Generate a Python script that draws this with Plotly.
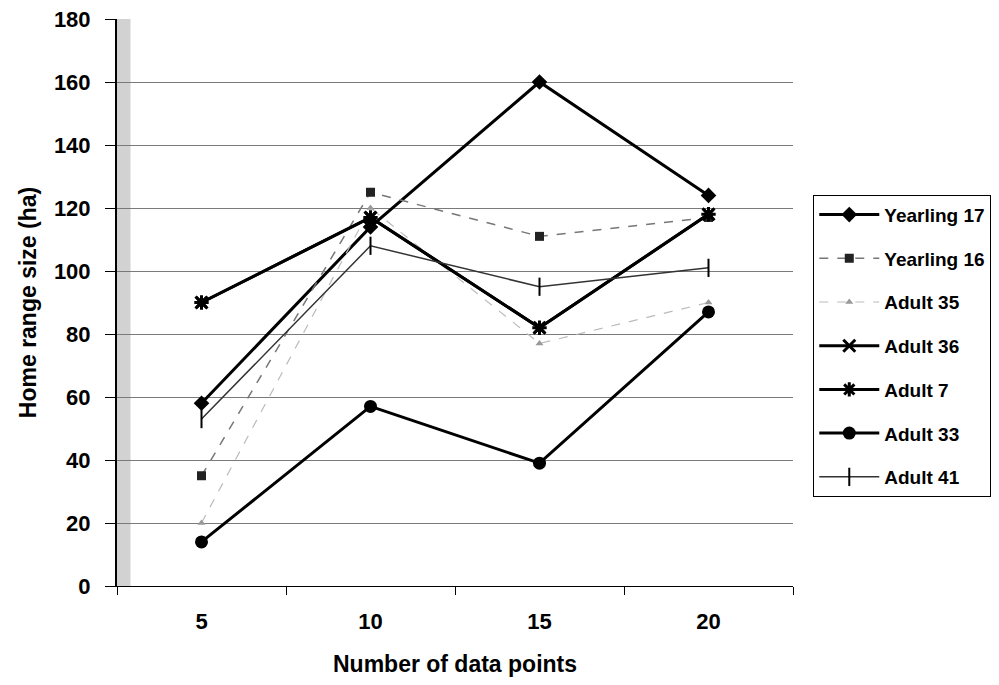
import plotly.graph_objects as go

x_points = [5, 10, 15, 20]
x_labels = ["5", "10", "15", "20"]
y_ticks = [0, 20, 40, 60, 80, 100, 120, 140, 160, 180]

yearling_17 = [58, 114, 160, 124]
yearling_16 = [35, 125, 111, 117]
adult_35 = [20, 120, 77, 90]
adult_36 = [90, 117, 82, 118]
adult_7 = [90, 117, 82, 118]
adult_33 = [14, 57, 39, 87]
adult_41 = [53, 108, 95, 101]

series = [
    ("Yearling 17", yearling_17, dict(symbol="diamond", size=12, color="black"), dict(color="black", width=3)),
    ("Yearling 16", yearling_16, dict(symbol="square", size=9, color="#222"), dict(color="#777", width=1.5, dash="dash")),
    ("Adult 35", adult_35, dict(symbol="triangle-up", size=7, color="#999"), dict(color="#bbb", width=1.2, dash="dash")),
    ("Adult 36", adult_36, dict(symbol="x-thin-open", size=12, color="black", line=dict(width=3, color="black")), dict(color="black", width=3)),
    ("Adult 7", adult_7, dict(symbol="asterisk-open", size=12, color="black", line=dict(width=3, color="black")), dict(color="black", width=3)),
    ("Adult 33", adult_33, dict(symbol="circle", size=13, color="black"), dict(color="black", width=3)),
    ("Adult 41", adult_41, dict(symbol="line-ns-open", size=13, color="black", line=dict(width=2, color="#222")), dict(color="#333", width=1.5)),
]

fig = go.Figure()
for i, (name, vals, marker, line) in enumerate(series):
    fig.add_trace(go.Scatter(x=x_points, y=vals, name=name, mode="lines+markers",
                             marker=marker, line=line, legendgroup=f"g{i}"))

font_family = "Liberation Sans, Arial, sans-serif"

# scanned stipple band along the value axis
fig.add_shape(type="rect", xref="x domain", yref="y domain", x0=0, x1=0.02, y0=0, y1=1,
              fillcolor="#d2d2d2", line=dict(width=0), layer="below")

fig.update_layout(
    width=999, height=685,
    margin=dict(l=117, r=206, t=19, b=99, autoexpand=False),
    paper_bgcolor="white", plot_bgcolor="white",
    font=dict(family=font_family, color="black"),
    showlegend=True,
    legend=dict(x=1.03, y=0.69, xanchor="left", yanchor="top",
                bordercolor="black", borderwidth=1, bgcolor="white",
                font=dict(size=19, family=font_family, weight="bold"),
                itemwidth=60, tracegroupgap=16),
    xaxis=dict(range=[2.5, 22.5], tickvals=x_points, ticktext=x_labels,
               ticks="", showgrid=False, zeroline=False, automargin=False,
               showline=True, linecolor="black", linewidth=1, mirror=False,
               tickfont=dict(size=22, weight="bold"), ticklabelstandoff=16,
               minor=dict(tickvals=[2.5, 7.5, 12.5, 17.5, 22.5], ticks="outside",
                          ticklen=8, tickcolor="black", showgrid=False),
               title=dict(text="Number of data points", font=dict(size=23, weight="bold"), standoff=22)),
    yaxis=dict(range=[0, 180], tickvals=y_ticks, ticks="outside", ticklen=10,
               tickcolor="black", showgrid=True, gridcolor="#7a7a7a", gridwidth=1,
               zeroline=False, showline=True, linecolor="black", linewidth=2, automargin=False,
               tickfont=dict(size=22, weight="bold"), ticklabelstandoff=10,
               title=dict(text="Home range size (ha)", font=dict(size=23, weight="bold"), standoff=11)),
)

fig.write_html("out.html")
